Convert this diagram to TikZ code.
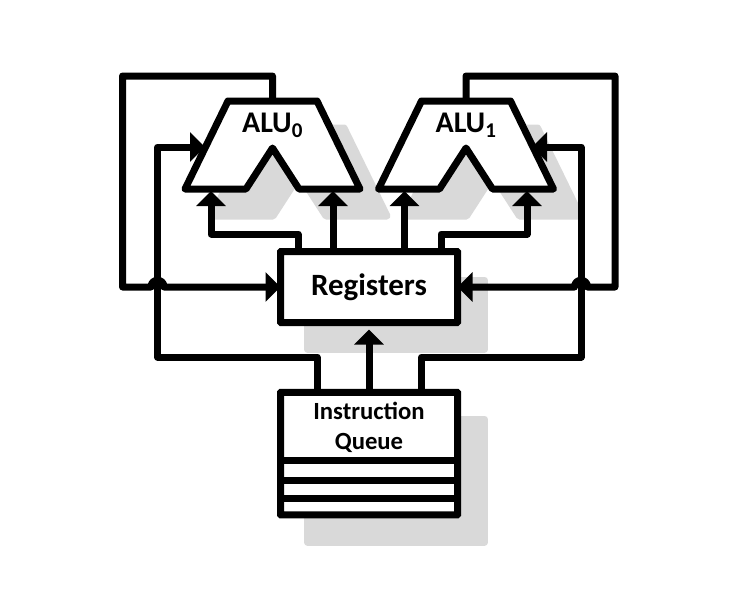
\documentclass[tikz,border=0pt]{standalone}
\usepackage{fontspec}
\setmainfont{Carlito}
\usepackage{tikz}
\usetikzlibrary{arrows.meta}
\definecolor{shadowgray}{HTML}{D9D9D9}
\tikzstyle{box}=[draw,line width=7pt,fill=white,rounded corners=.5pt,inner sep=0pt]
\tikzstyle{shade}=[draw=shadowgray,fill=shadowgray,line width=7pt,line join=round]
\tikzstyle{body}=[draw,fill=white,line width=7pt,line join=round]
\tikzstyle{edge} = [draw,line width=7pt,line join=round]
\tikzstyle{tip} = [-{Triangle[length=15pt,width=29pt]}]
\newcommand{\alushape}{(185,189) -- (228,101) -- (317,101) -- (360,189) -- (299,189) -- (272.5,148) -- (246,189) -- cycle}

\begin{document}
\begin{tikzpicture}[x=1pt,y=-1pt]
        \useasboundingbox (0,0) rectangle (737,606);

        % shadows
        \foreach \dx in {27,220.5}
          \path[shade,xshift=\dx pt,yshift=-27pt] \alushape;
        \path[shade] (307.5,280) rectangle (484.5,349);
        \path[shade] (307.5,419) rectangle (484.5,542);

        % units
        \foreach \dx in {0,193.5}
          \path[body,xshift=\dx pt] \alushape;
        \node[font=\bfseries\fontsize{30}{30}\selectfont] (alu0) at (272.5,125) {ALU\textsubscript{0}};
        \node[font=\bfseries\fontsize{30}{30}\selectfont] (alu1) at (466,125) {ALU\textsubscript{1}};
        \node[box,minimum width=177pt,minimum height=71pt,text height=22pt,text depth=6pt,font=\bfseries\fontsize{31}{31}\selectfont] (registers) at (369,287) {Registers};
        \node[box,minimum width=177pt,minimum height=122.7pt] (queue) at (369,453.6) {};
        \node[font=\bfseries\fontsize{24.7}{30}\selectfont,align=center] (queuetext) at (369,427.5) {Instruction\\Queue};
        \foreach \y in {460,480,498}
          \draw[edge] (queue.west |- 0,\y) -- (queue.east |- 0,\y);

        % ports
        \coordinate (alu0top) at (272.5,101);
        \coordinate (alu1top) at (466,101);
        \coordinate (alu0side) at (205,147);
        \coordinate (alu1side) at (532,147);
        \coordinate (alu0a) at (211,191);
        \coordinate (alu0b) at (333,191);
        \coordinate (alu1a) at (404.5,191);
        \coordinate (alu1b) at (527,191);
        \coordinate (reg0) at (298,248);
        \coordinate (reg1) at (441,248);
        \coordinate (qleft) at (317,389);
        \coordinate (qright) at (421.5,389);

        % result feedback
        \draw[edge,tip] (alu0top) -- (272.5,76) -- (122.5,76) -- (122.5,287) -- (151,287)
          .. controls (151,278) and (164,278) .. (164,287) -- ([xshift=3.5pt]registers.west);
        \draw[edge,tip] (alu1top) -- (466,76) -- (615,76) -- (615,287) -- (587.5,287)
          .. controls (587.5,278) and (574.5,278) .. (574.5,287) -- ([xshift=-3.5pt]registers.east);

        % operands
        \draw[edge,tip] (reg0) -- (298,234) -- (211,234) -- (alu0a);
        \draw[edge,tip] (reg0 -| alu0b) -- (alu0b);
        \draw[edge,tip] (reg0 -| alu1a) -- (alu1a);
        \draw[edge,tip] (reg1) -- (441,234) -- (527,234) -- (alu1b);

        % instructions
        \draw[edge,tip] (qleft) -- (317,357) -- (157.5,357) -- (157.5,147) -- (alu0side);
        \draw[edge,tip] (qright) -- (421.5,357) -- (581,357) -- (581,147) -- (alu1side);
        \draw[edge,tip] (queue.north) -- ([yshift=-3.5pt]registers.south);
\end{tikzpicture}
\end{document}
